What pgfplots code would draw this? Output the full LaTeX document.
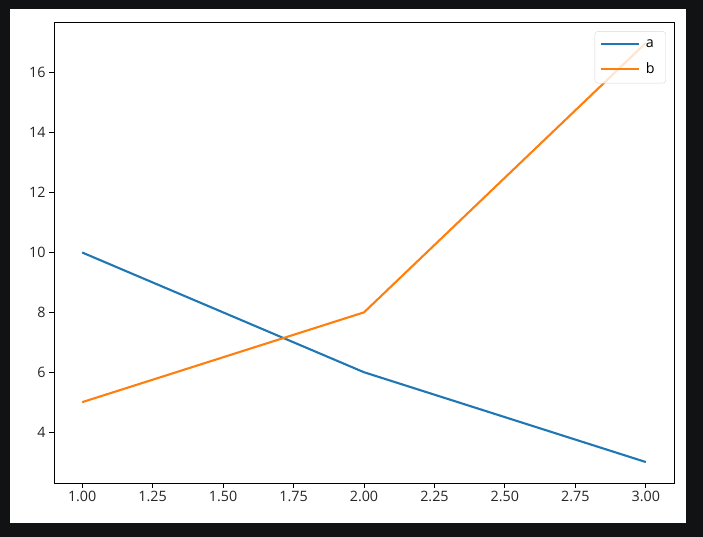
\documentclass[border=0pt]{standalone}
\usepackage{pgfplots}
\pgfplotsset{compat=1.18}
\usepackage{fontspec}
\setmainfont{Open Sans}
\definecolor{tabblue}{HTML}{1F77B4}
\definecolor{taborange}{HTML}{FF7F0E}
\definecolor{frame}{HTML}{111214}
\begin{document}
\begin{tikzpicture}
% dark surround and white figure face
\fill[frame] (-54pt,-54pt) rectangle (649pt,483pt);
\fill[white] (-44pt,-40pt) rectangle (632pt,474pt);
\begin{axis}[
    at={(0pt,0pt)}, anchor=south west,
    scale only axis,
    width=620pt, height=461pt,
    xmin=0.9, xmax=3.1,
    ymin=2.3, ymax=17.7,
    xtick={1,1.25,1.5,1.75,2,2.25,2.5,2.75,3},
    ytick={4,6,8,10,12,14,16},
    xticklabel style={/pgf/number format/fixed,/pgf/number format/fixed zerofill,/pgf/number format/precision=2},
    /pgf/number format/assume math mode=true,
    tick label style={font=\fontsize{14.3}{16}\selectfont, text=black!85},
    tick align=outside,
    tickwidth=4.9pt,
    xtick pos=bottom, ytick pos=left,
    axis line style={line width=0.9pt},
    major tick style={line width=0.9pt, black},
    legend cell align=left,
    legend style={
        at={(0.987,0.980)}, anchor=north east,
        draw=black!15, rounded corners=3pt,
        fill=white, fill opacity=0.8, text opacity=1,
        font=\fontsize{14.3}{16}\selectfont,
        row sep=10pt, inner xsep=5pt, inner ysep=6pt,
        nodes={inner xsep=6pt, inner ysep=2pt},
    },
    legend image code/.code={\draw[#1, line width=2.1pt] (0pt,0pt) -- (38pt,0pt);},
]
\addplot[tabblue, line width=2.1pt] coordinates {(1,10) (2,6) (3,3)};
\addplot[taborange, line width=2.1pt] coordinates {(1,5) (2,8) (3,17)};
\legend{a,b}
\end{axis}
\end{tikzpicture}
\end{document}
